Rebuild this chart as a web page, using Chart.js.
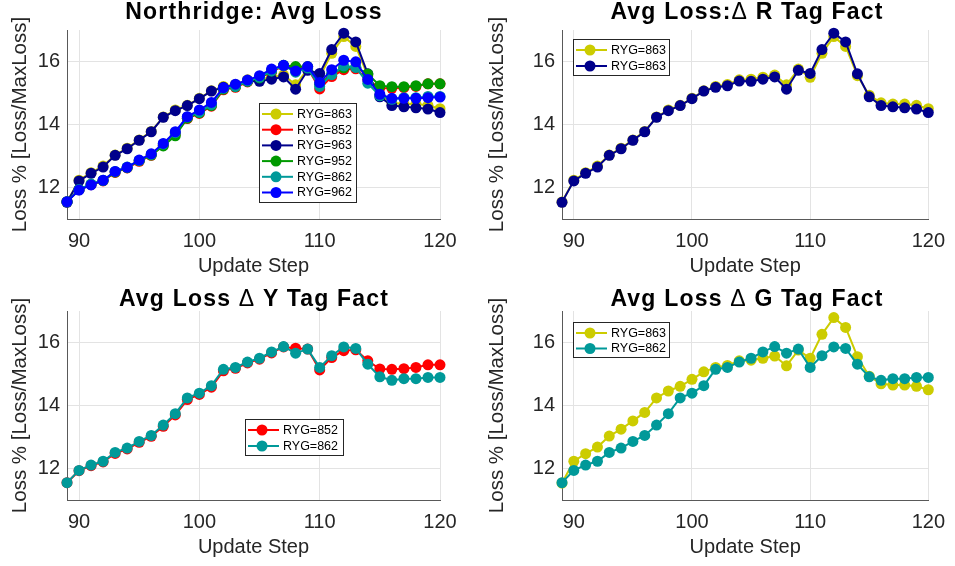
<!DOCTYPE html>
<html>
<head>
<meta charset="utf-8">
<script src="https://cdn.jsdelivr.net/npm/chart.js@4.4.1/dist/chart.umd.min.js"></script>
<style>
  body { margin: 0; background: #fff; }
  #fig { position: relative; width: 955px; height: 566px; overflow: hidden; font-family: "Liberation Sans", Arial, sans-serif; }
  .panel { position: absolute; }
  .title { position: absolute; width: 420px; text-align: center; font-size: 23px; line-height: 23px; font-weight: bold;
           letter-spacing: 1.2px; color: #000; white-space: pre; }
  .title .d { font-weight: normal; }
</style>
</head>
<body>
<div id="fig">
  <canvas class="panel" id="c1" width="477" height="283" style="left:0;top:0"></canvas>
  <canvas class="panel" id="c2" width="478" height="283" style="left:477px;top:0"></canvas>
  <canvas class="panel" id="c3" width="477" height="283" style="left:0;top:283px"></canvas>
  <canvas class="panel" id="c4" width="478" height="283" style="left:477px;top:283px"></canvas>
  <div class="title" style="left:44px;top:0">Northridge: Avg Loss</div>
  <div class="title" style="left:537px;top:0">Avg Loss:<span class="d">Δ</span> R Tag Fact</div>
  <div class="title" style="left:44px;top:287px">Avg Loss <span class="d">Δ</span> Y Tag Fact</div>
  <div class="title" style="left:537px;top:287px">Avg Loss <span class="d">Δ</span> G Tag Fact</div>
</div>
<script>
const steps = [89, 90, 91, 92, 93, 94, 95, 96, 97, 98, 99, 100, 101, 102, 103, 104,
               105, 106, 107, 108, 109, 110, 111, 112, 113, 114, 115, 116, 117, 118, 119, 120];
const xTicks = [90, 100, 110, 120];
const yTicks = [12, 14, 16];

const ryg863 = [11.54, 12.23, 12.47, 12.68, 13.03, 13.25, 13.51, 13.78, 14.24, 14.46, 14.61, 14.83, 15.07, 15.21, 15.27, 15.42,
                15.44, 15.50, 15.57, 15.26, 15.76, 15.50, 16.26, 16.79, 16.48, 15.55, 14.93, 14.69, 14.65, 14.65, 14.61, 14.50];
const ryg852 = [11.55, 11.93, 12.09, 12.21, 12.48, 12.62, 12.83, 13.02, 13.34, 13.70, 14.19, 14.35, 14.58, 15.10, 15.18, 15.35,
                15.47, 15.67, 15.86, 15.82, 15.79, 15.13, 15.52, 15.74, 15.77, 15.42, 15.16, 15.15, 15.17, 15.21, 15.29, 15.29];
const ryg963 = [11.53, 12.21, 12.45, 12.65, 13.02, 13.23, 13.50, 13.77, 14.23, 14.44, 14.60, 14.82, 15.06, 15.18, 15.23, 15.38,
                15.37, 15.44, 15.51, 15.12, 15.72, 15.62, 16.38, 16.90, 16.62, 15.61, 14.88, 14.60, 14.56, 14.53, 14.49, 14.38];
const ryg952 = [11.55, 11.93, 12.10, 12.22, 12.49, 12.63, 12.85, 13.03, 13.32, 13.64, 14.20, 14.37, 14.60, 15.12, 15.20, 15.37,
                15.48, 15.70, 15.88, 15.84, 15.84, 15.28, 15.60, 15.80, 15.82, 15.60, 15.23, 15.20, 15.20, 15.23, 15.29, 15.29];
const ryg862 = [11.55, 11.94, 12.11, 12.23, 12.51, 12.65, 12.86, 13.05, 13.38, 13.74, 14.24, 14.39, 14.63, 15.15, 15.21, 15.38,
                15.50, 15.70, 15.87, 15.66, 15.79, 15.21, 15.58, 15.86, 15.81, 15.31, 14.91, 14.80, 14.85, 14.85, 14.89, 14.89];
const ryg962 = [11.55, 11.92, 12.08, 12.23, 12.51, 12.64, 12.87, 13.07, 13.40, 13.77, 14.25, 14.46, 14.70, 15.17, 15.28, 15.41,
                15.55, 15.76, 15.88, 15.70, 15.84, 15.33, 15.74, 16.04, 15.99, 15.43, 14.96, 14.83, 14.83, 14.83, 14.85, 14.87];

const colors = {
    yellow: '#cccc00',
    red: '#ff0000',
    navy: '#00008b',
    green: '#009900',
    teal: '#009999',
    blue: '#0000ff',
};

const FONT = '"Liberation Sans", Arial, sans-serif';
const textColor = '#262626';

function series(label, values, color) {
    return {
        label: label,
        data: steps.map((s, i) => ({ x: s, y: values[i] })),
        borderColor: color,
        backgroundColor: color,
        pointBackgroundColor: color,
        pointBorderColor: color,
        pointRadius: 5.5,
        pointBorderWidth: 0,
        borderWidth: 2,
        tension: 0,
        clip: false,
    };
}

// legend drawn inside the plot like MATLAB's boxed legend
function boxLegend(box) {
    return {
        id: 'boxLegend',
        afterDraw(chart) {
            const ctx = chart.ctx;
            ctx.save();
            ctx.fillStyle = '#fff';
            ctx.fillRect(box.x, box.y, box.w, box.h);
            ctx.strokeStyle = '#262626';
            ctx.lineWidth = 1;
            ctx.strokeRect(box.x + 0.5, box.y + 0.5, box.w, box.h);
            ctx.font = '12.5px ' + FONT;
            ctx.textBaseline = 'middle';
            chart.data.datasets.forEach((ds, i) => {
                const y = box.y + 11 + i * box.row;
                ctx.strokeStyle = ds.borderColor;
                ctx.lineWidth = 2;
                ctx.beginPath();
                ctx.moveTo(box.x + 3, y);
                ctx.lineTo(box.x + 34, y);
                ctx.stroke();
                ctx.fillStyle = ds.borderColor;
                ctx.beginPath();
                ctx.arc(box.x + 17, y, 5.5, 0, Math.PI * 2);
                ctx.fill();
                ctx.fillStyle = '#000';
                ctx.fillText(ds.label, box.x + 38, y + 0.5);
            });
            ctx.restore();
        },
    };
}

function makeChart(id, datasets, layout, box) {
    const n = datasets.length;
    datasets.forEach((ds, i) => { ds.order = n - i; });
    return new Chart(document.getElementById(id), {
        type: 'line',
        data: { datasets: datasets },
        options: {
            responsive: false,
            animation: false,
            layout: { padding: { left: 0, top: layout.top, right: layout.right, bottom: 0 } },
            plugins: { legend: { display: false }, tooltip: { enabled: false } },
            scales: {
                x: {
                    type: 'linear',
                    min: 89,
                    max: 120,
                    afterBuildTicks: (s) => { s.ticks = xTicks.map((v) => ({ value: v })); },
                    afterFit: (s) => { s.height = layout.bottom; },
                    grid: { color: '#e3e3e3', drawTicks: false },
                    border: { color: '#595959', width: 1 },
                    ticks: { font: { family: FONT, size: 20 }, color: textColor, padding: 10, maxRotation: 0 },
                    title: { display: true, text: 'Update Step', font: { family: FONT, size: 20 }, color: textColor,
                             padding: { top: 0, bottom: layout.xtitle } },
                },
                y: {
                    min: 11,
                    max: 17,
                    afterBuildTicks: (s) => { s.ticks = yTicks.map((v) => ({ value: v })); },
                    afterFit: (s) => { s.width = layout.left; },
                    grid: { color: '#e3e3e3', drawTicks: false },
                    border: { color: '#595959', width: 1 },
                    ticks: { font: { family: FONT, size: 20 }, color: textColor, padding: 7 },
                    title: { display: true, text: 'Loss % [Loss/MaxLoss]', font: { family: FONT, size: 20.5 }, color: textColor,
                             padding: { top: 8, bottom: 0 } },
                },
            },
        },
        plugins: [boxLegend(box)],
    });
}

makeChart('c1', [
    series('RYG=863', ryg863, colors.yellow),
    series('RYG=852', ryg852, colors.red),
    series('RYG=963', ryg963, colors.navy),
    series('RYG=952', ryg952, colors.green),
    series('RYG=862', ryg862, colors.teal),
    series('RYG=962', ryg962, colors.blue),
], { left: 67, top: 30, right: 37, bottom: 64, xtitle: 5 }, { x: 259, y: 103, w: 97, h: 99, row: 15.7 });

makeChart('c2', [
    series('RYG=863', ryg863, colors.yellow),
    series('RYG=863', ryg963, colors.navy),
], { left: 85, top: 30, right: 23, bottom: 64, xtitle: 5 }, { x: 96, y: 39, w: 96, h: 36, row: 16 });

makeChart('c3', [
    series('RYG=852', ryg852, colors.red),
    series('RYG=862', ryg862, colors.teal),
], { left: 67, top: 28, right: 37, bottom: 66, xtitle: 7 }, { x: 245, y: 136, w: 98, h: 36, row: 16 });

makeChart('c4', [
    series('RYG=863', ryg863, colors.yellow),
    series('RYG=862', ryg862, colors.teal),
], { left: 85, top: 28, right: 23, bottom: 66, xtitle: 7 }, { x: 96, y: 39, w: 96, h: 35, row: 15.5 });
</script>
</body>
</html>
